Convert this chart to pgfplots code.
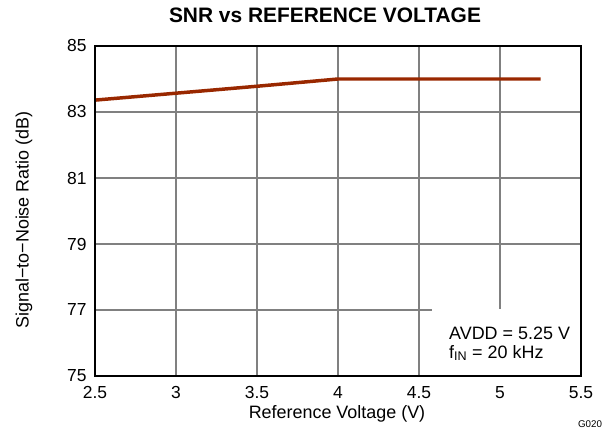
\documentclass[border=0pt]{standalone}
\usepackage{fontspec}
\setmainfont{Liberation Sans}
\usepackage{pgfplots}
\pgfplotsset{compat=1.18}
\definecolor{snrline}{RGB}{153,40,0}
\begin{document}
\begin{tikzpicture}
\path[use as bounding box] (-95bp,-56bp) rectangle (518bp,376bp);
\begin{axis}[
  at={(0,0)}, anchor=south west,
  scale only axis, width=486bp, height=330bp,
  xmin=2.5, xmax=5.5, ymin=75, ymax=85,
  xtick={2.5,3,...,5.5}, ytick={75,77,...,85},
  xticklabels={2.5,3,3.5,4,4.5,5,5.5},
  yticklabels={75,77,79,81,83,85},
  grid=major,
  major grid style={gray, line width=1.1pt},
  axis line style={line width=2.2pt},
  tick style={draw=none},
  tick label style={font=\fontsize{17.5}{20}\selectfont},
  /pgf/number format/assume math mode=true,
  xticklabel style={yshift=-7bp},
  yticklabel style={xshift=-5bp},
  clip=false,
]
\addplot[snrline, line width=3.5pt] coordinates {
 (2.5,83.36) (3,83.57) (3.5,83.78) (4,84.0) (4.5,84.0) (5,84.0) (5.25,84.0)
};
\end{axis}
\fill[white] (337bp,1.2bp) rectangle (484.8bp,67bp);
\draw[line width=2.2pt] (0,0) rectangle (486bp,330bp);
\node[anchor=base west, font=\fontsize{18}{20}\selectfont, inner sep=0pt] at (354bp,37bp) {AVDD = 5.25 V};
\node[anchor=base west, font=\fontsize{18}{20}\selectfont, inner sep=0pt] at (354bp,18bp) {f\textsubscript{IN} = 20 kHz};
\node[font=\bfseries\fontsize{21}{24}\selectfont] at (230bp,361bp) {SNR vs REFERENCE VOLTAGE};
\node[font=\fontsize{18}{21}\selectfont] at (242bp,-38bp) {Reference Voltage (V)};
\node[font=\fontsize{18}{21}\selectfont, rotate=90] at (-71bp,156bp) {Signal−to−Noise Ratio (dB)};
\node[font=\fontsize{9.8}{11}\selectfont] at (495bp,-48bp) {G020};
\end{tikzpicture}
\end{document}
